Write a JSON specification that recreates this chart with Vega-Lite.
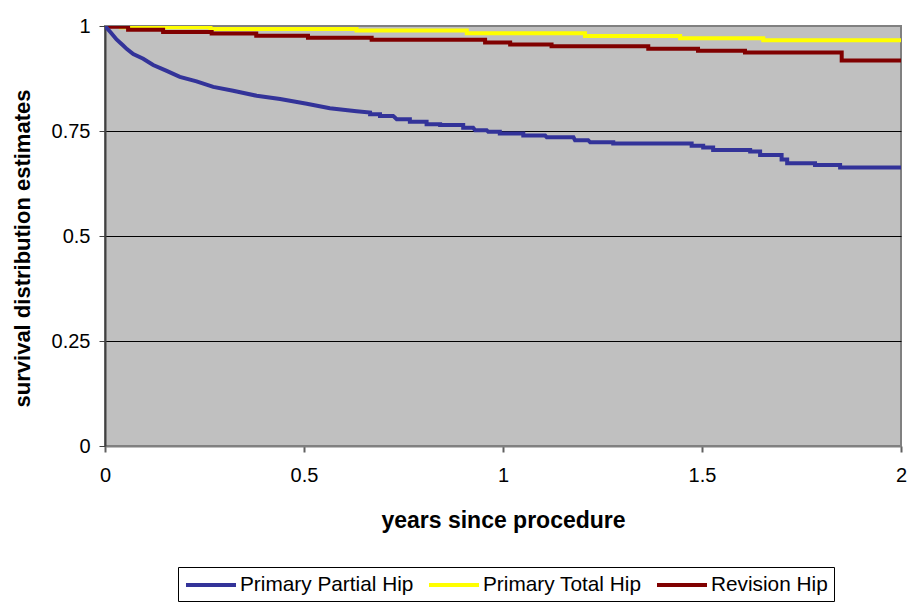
{
  "$schema": "https://vega.github.io/schema/vega-lite/v6.json",
  "width": 796,
  "height": 420,
  "autosize": {"type": "none"},
  "padding": {"left": 105, "top": 26, "right": 9, "bottom": 159},
  "background": "white",
  "config": {
    "font": "Liberation Sans",
    "view": {"fill": "#C0C0C0", "stroke": "#808080", "strokeWidth": 2}
  },
  "datasets": {
    "total": [
      {"series": "Primary Total Hip", "years": 0, "survival": 1.0},
      {"series": "Primary Total Hip", "years": 0.04, "survival": 0.997},
      {"series": "Primary Total Hip", "years": 0.265, "survival": 0.993},
      {"series": "Primary Total Hip", "years": 0.632, "survival": 0.989},
      {"series": "Primary Total Hip", "years": 0.909, "survival": 0.983},
      {"series": "Primary Total Hip", "years": 1.206, "survival": 0.976},
      {"series": "Primary Total Hip", "years": 1.445, "survival": 0.971},
      {"series": "Primary Total Hip", "years": 1.654, "survival": 0.966},
      {"series": "Primary Total Hip", "years": 2.0, "survival": 0.966}
    ],
    "revision": [
      {"series": "Revision Hip", "years": 0, "survival": 0.998},
      {"series": "Revision Hip", "years": 0.058, "survival": 0.991},
      {"series": "Revision Hip", "years": 0.146, "survival": 0.986},
      {"series": "Revision Hip", "years": 0.268, "survival": 0.982},
      {"series": "Revision Hip", "years": 0.38, "survival": 0.977},
      {"series": "Revision Hip", "years": 0.51, "survival": 0.972},
      {"series": "Revision Hip", "years": 0.67, "survival": 0.967},
      {"series": "Revision Hip", "years": 0.955, "survival": 0.961},
      {"series": "Revision Hip", "years": 1.018, "survival": 0.956},
      {"series": "Revision Hip", "years": 1.122, "survival": 0.952},
      {"series": "Revision Hip", "years": 1.365, "survival": 0.946},
      {"series": "Revision Hip", "years": 1.49, "survival": 0.941},
      {"series": "Revision Hip", "years": 1.608, "survival": 0.937},
      {"series": "Revision Hip", "years": 1.851, "survival": 0.918},
      {"series": "Revision Hip", "years": 2.0, "survival": 0.918}
    ],
    "partial": [
      {"series": "Primary Partial Hip", "years": 0, "survival": 1.0},
      {"series": "Primary Partial Hip", "years": 0.015, "survival": 0.984},
      {"series": "Primary Partial Hip", "years": 0.029, "survival": 0.968},
      {"series": "Primary Partial Hip", "years": 0.045, "survival": 0.954},
      {"series": "Primary Partial Hip", "years": 0.055, "survival": 0.945},
      {"series": "Primary Partial Hip", "years": 0.071, "survival": 0.933},
      {"series": "Primary Partial Hip", "years": 0.096, "survival": 0.922},
      {"series": "Primary Partial Hip", "years": 0.121, "survival": 0.907},
      {"series": "Primary Partial Hip", "years": 0.155, "survival": 0.893},
      {"series": "Primary Partial Hip", "years": 0.188, "survival": 0.879},
      {"series": "Primary Partial Hip", "years": 0.23, "survival": 0.868},
      {"series": "Primary Partial Hip", "years": 0.272, "survival": 0.855},
      {"series": "Primary Partial Hip", "years": 0.322, "survival": 0.846},
      {"series": "Primary Partial Hip", "years": 0.381, "survival": 0.834},
      {"series": "Primary Partial Hip", "years": 0.44, "survival": 0.826},
      {"series": "Primary Partial Hip", "years": 0.507, "survival": 0.815},
      {"series": "Primary Partial Hip", "years": 0.565, "survival": 0.804},
      {"series": "Primary Partial Hip", "years": 0.632, "survival": 0.797},
      {"series": "Primary Partial Hip", "years": 0.666, "survival": 0.794},
      {"series": "Primary Partial Hip", "years": 0.666, "survival": 0.79},
      {"series": "Primary Partial Hip", "years": 0.691, "survival": 0.79},
      {"series": "Primary Partial Hip", "years": 0.691, "survival": 0.786},
      {"series": "Primary Partial Hip", "years": 0.724, "survival": 0.786},
      {"series": "Primary Partial Hip", "years": 0.733, "survival": 0.778},
      {"series": "Primary Partial Hip", "years": 0.766, "survival": 0.778},
      {"series": "Primary Partial Hip", "years": 0.766, "survival": 0.772},
      {"series": "Primary Partial Hip", "years": 0.808, "survival": 0.772},
      {"series": "Primary Partial Hip", "years": 0.808, "survival": 0.766},
      {"series": "Primary Partial Hip", "years": 0.842, "survival": 0.766},
      {"series": "Primary Partial Hip", "years": 0.842, "survival": 0.764},
      {"series": "Primary Partial Hip", "years": 0.9, "survival": 0.764},
      {"series": "Primary Partial Hip", "years": 0.9, "survival": 0.758},
      {"series": "Primary Partial Hip", "years": 0.925, "survival": 0.758},
      {"series": "Primary Partial Hip", "years": 0.93, "survival": 0.752},
      {"series": "Primary Partial Hip", "years": 0.959, "survival": 0.752},
      {"series": "Primary Partial Hip", "years": 0.963, "survival": 0.748},
      {"series": "Primary Partial Hip", "years": 0.992, "survival": 0.748},
      {"series": "Primary Partial Hip", "years": 0.992, "survival": 0.744},
      {"series": "Primary Partial Hip", "years": 1.051, "survival": 0.744},
      {"series": "Primary Partial Hip", "years": 1.051, "survival": 0.739},
      {"series": "Primary Partial Hip", "years": 1.106, "survival": 0.739},
      {"series": "Primary Partial Hip", "years": 1.11, "survival": 0.735},
      {"series": "Primary Partial Hip", "years": 1.177, "survival": 0.735},
      {"series": "Primary Partial Hip", "years": 1.181, "survival": 0.728},
      {"series": "Primary Partial Hip", "years": 1.214, "survival": 0.728},
      {"series": "Primary Partial Hip", "years": 1.219, "survival": 0.723},
      {"series": "Primary Partial Hip", "years": 1.277, "survival": 0.723},
      {"series": "Primary Partial Hip", "years": 1.277, "survival": 0.72},
      {"series": "Primary Partial Hip", "years": 1.474, "survival": 0.72},
      {"series": "Primary Partial Hip", "years": 1.474, "survival": 0.715},
      {"series": "Primary Partial Hip", "years": 1.503, "survival": 0.715},
      {"series": "Primary Partial Hip", "years": 1.503, "survival": 0.711},
      {"series": "Primary Partial Hip", "years": 1.528, "survival": 0.711},
      {"series": "Primary Partial Hip", "years": 1.528, "survival": 0.705},
      {"series": "Primary Partial Hip", "years": 1.621, "survival": 0.705},
      {"series": "Primary Partial Hip", "years": 1.621, "survival": 0.701},
      {"series": "Primary Partial Hip", "years": 1.646, "survival": 0.701},
      {"series": "Primary Partial Hip", "years": 1.646, "survival": 0.693},
      {"series": "Primary Partial Hip", "years": 1.7, "survival": 0.693},
      {"series": "Primary Partial Hip", "years": 1.7, "survival": 0.682},
      {"series": "Primary Partial Hip", "years": 1.714, "survival": 0.682},
      {"series": "Primary Partial Hip", "years": 1.714, "survival": 0.673},
      {"series": "Primary Partial Hip", "years": 1.784, "survival": 0.673},
      {"series": "Primary Partial Hip", "years": 1.784, "survival": 0.669},
      {"series": "Primary Partial Hip", "years": 1.847, "survival": 0.669},
      {"series": "Primary Partial Hip", "years": 1.847, "survival": 0.663},
      {"series": "Primary Partial Hip", "years": 2.0, "survival": 0.663}
    ]
  },
  "encoding": {
    "x": {
      "field": "years",
      "type": "quantitative",
      "scale": {"domain": [0, 2], "nice": false},
      "axis": {
        "values": [0, 0.5, 1, 1.5, 2],
        "format": ".1~f",
        "grid": false,
        "title": "years since procedure",
        "titleFontSize": 23,
        "titleFontWeight": "bold",
        "titleColor": "black",
        "titleY": 74,
        "titleBaseline": "middle",
        "labelFontSize": 20,
        "labelColor": "black",
        "labelPadding": 13,
        "labelFlush": false,
        "tickSize": 6,
        "tickColor": "#606060",
        "tickWidth": 2,
        "domainColor": "#808080",
        "domainWidth": 2
      }
    },
    "y": {
      "field": "survival",
      "type": "quantitative",
      "scale": {"domain": [0, 1], "nice": false},
      "axis": {
        "values": [0, 0.25, 0.5, 0.75, 1],
        "format": ".2~f",
        "grid": true,
        "gridColor": {"condition": {"test": "datum.value == 0 || datum.value == 1", "value": "transparent"}, "value": "black"},
        "gridWidth": 1,
        "gridOpacity": 1,
        "title": "survival distribution estimates",
        "titleFontSize": 22,
        "titleFontWeight": "bold",
        "titleColor": "black",
        "titleAngle": -90,
        "titleX": -83,
        "titleY": 222,
        "titleAlign": "center",
        "titleBaseline": "middle",
        "labelFontSize": 20,
        "labelColor": "black",
        "labelPadding": 9,
        "labelFlush": false,
        "tickSize": 6,
        "tickColor": "#404040",
        "tickWidth": 1,
        "domainColor": "#404040",
        "domainWidth": 2
      }
    },
    "color": {
      "field": "series",
      "type": "nominal",
      "scale": {
        "domain": ["Primary Partial Hip", "Primary Total Hip", "Revision Hip"],
        "range": ["#333399", "#FFFF00", "#800000"]
      },
      "legend": {
        "title": null,
        "orient": "none",
        "legendX": 73,
        "legendY": 541,
        "direction": "horizontal",
        "symbolType": "M-1,0H4",
        "symbolSize": 400,
        "symbolStrokeWidth": 4,
        "labelFontSize": 20.8,
        "labelColor": "black",
        "labelOffset": 32,
        "labelLimit": 400,
        "columnPadding": 7,
        "padding": 6,
        "strokeColor": "black",
        "fillColor": "white"
      }
    }
  },
  "layer": [
    {
      "data": {"name": "total"},
      "mark": {"type": "line", "interpolate": "step-after", "strokeWidth": 4, "clip": true}
    },
    {
      "data": {"name": "revision"},
      "mark": {"type": "line", "interpolate": "step-after", "strokeWidth": 4, "clip": true}
    },
    {
      "data": {"name": "partial"},
      "mark": {"type": "line", "interpolate": "linear", "strokeWidth": 4, "clip": true}
    }
  ]
}
